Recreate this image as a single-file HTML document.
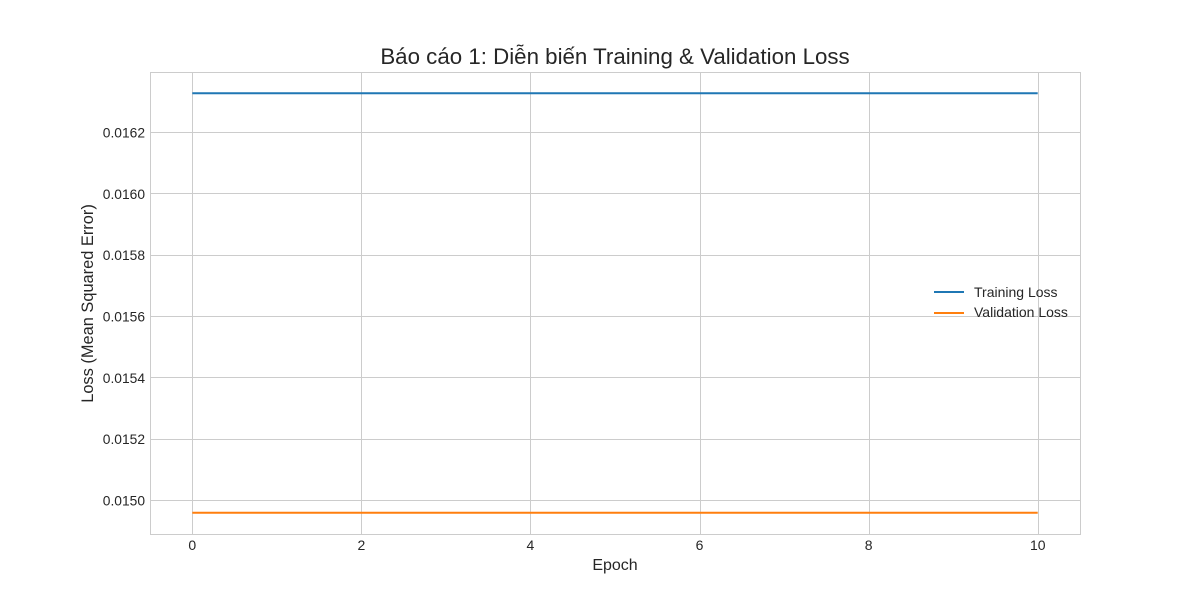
<!DOCTYPE html>
<html><head><meta charset="utf-8">
<style>
body{margin:0;background:#fff;}
svg text{font-family:"Liberation Sans","DejaVu Sans",sans-serif;}
</style></head>
<body>
<svg id="chart" width="1200" height="600" xmlns="http://www.w3.org/2000/svg">
<rect width="1200" height="600" fill="#fff"/>
<g id="grid"></g>
<g id="ticks"></g>
<g id="series"></g>
<rect x="150.5" y="72.5" width="930" height="462" fill="none" stroke="#cccccc" stroke-width="1"/>
<text x="615" y="64" font-size="22.3" text-anchor="middle" fill="#262626">Báo cáo 1: Diễn biến Training &amp; Validation Loss</text>
<text x="615" y="570" font-size="16" text-anchor="middle" fill="#262626">Epoch</text>
<text transform="translate(93,303.5) rotate(-90)" font-size="16.4" text-anchor="middle" fill="#262626">Loss (Mean Squared Error)</text>
<g>
<line x1="934" y1="292" x2="964" y2="292" stroke="#1f77b4" stroke-width="2"/>
<text x="974" y="297" font-size="14" fill="#262626">Training Loss</text>
<line x1="934" y1="313" x2="964" y2="313" stroke="#ff7f0e" stroke-width="2"/>
<text x="974" y="317" font-size="14" fill="#262626">Validation Loss</text>
</g>
</svg>
<script>
const epochs = [0,1,2,3,4,5,6,7,8,9,10];
const trainingLoss = [0.016327,0.016327,0.016327,0.016327,0.016327,0.016327,0.016327,0.016327,0.016327,0.016327,0.016327];
const validationLoss = [0.014958,0.014958,0.014958,0.014958,0.014958,0.014958,0.014958,0.014958,0.014958,0.014958,0.014958];
const xTicks = [0,2,4,6,8,10];
const yTicks = [0.0150,0.0152,0.0154,0.0156,0.0158,0.0160,0.0162];
const yTickLabels = ["0.0150","0.0152","0.0154","0.0156","0.0158","0.0160","0.0162"];

const NS="http://www.w3.org/2000/svg";
const X0=150,X1=1080,Y0=72,Y1=534;
const xMin=-0.5,xMax=10.5,yMin=0.014889,yMax=0.016396;
function xs(v){return X0+(v-xMin)/(xMax-xMin)*(X1-X0);}
function ys(v){return Y1-(v-yMin)/(yMax-yMin)*(Y1-Y0);}
function mk(tag,attrs,parent){const e=document.createElementNS(NS,tag);for(const k in attrs)e.setAttribute(k,attrs[k]);parent.appendChild(e);return e;}
const grid=document.getElementById('grid'),ticks=document.getElementById('ticks'),series=document.getElementById('series');
xTicks.forEach(v=>{
  const x=Math.round(xs(v))+0.5;
  const l=mk('line',{x1:x,x2:x,y1:Y0,y2:Y1,stroke:'#cccccc','stroke-width':1},grid);
  
  
  const t=mk('text',{x:xs(v),y:550,'font-size':14,'text-anchor':'middle',fill:'#262626'},ticks);
  t.textContent=String(v);
  
  
});
yTicks.forEach((v,i)=>{
  const y=Math.round(ys(v))+0.5;
  const l=mk('line',{x1:X0,x2:X1,y1:y,y2:y,stroke:'#cccccc','stroke-width':1},grid);
  
  
  const t=mk('text',{x:145,y:ys(v)+5.5,'font-size':13.8,'text-anchor':'end',fill:'#262626'},ticks);
  t.textContent=yTickLabels[i];
  
  
});
function drawLine(vals,color,name){
  const d=vals.map((v,i)=>(i?'L':'M')+xs(epochs[i]).toFixed(1)+','+ys(v).toFixed(1)).join(' ');
  const p=mk('path',{d:d,fill:'none',stroke:color,'stroke-width':2},series);
  
  
}
drawLine(trainingLoss,'#1f77b4','training-loss-line');
drawLine(validationLoss,'#ff7f0e','validation-loss-line');
</script>
</body></html>
